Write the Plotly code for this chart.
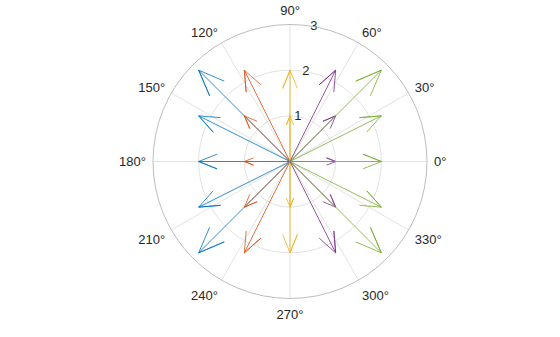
import numpy as np
import plotly.graph_objects as go

# Data: arrow components on a 5x5 grid (compass plot)
x_components = [-2, -1, 0, 1, 2]
y_components = [2, 1, 0, -1, -2]
series_colors = ["#0072BD", "#D95319", "#EDB120", "#7E2F8E", "#77AC30"]
angle_ticks = [0, 30, 60, 90, 120, 150, 180, 210, 240, 270, 300, 330]
radial_ticks = [1, 2, 3]
radial_label_angle = 80

# MATLAB-style compass arrow shape (unit arrow along +x)
head_x = np.array([0, 1, 0.8, 1, 0.8])
head_y = np.array([0, 0, 0.08, 0, -0.08])

fig = go.Figure()
for xc, col in zip(x_components, series_colors):
    rs, ths = [], []
    for yc in y_components:
        z = complex(xc, yc)
        pts = z * (head_x + 1j * head_y)
        r = np.abs(pts)
        th = np.degrees(np.angle(pts))
        rs += [float(v) for v in r] + [None]
        ths += [float(v) for v in th] + [None]
    fig.add_trace(go.Scatterpolar(r=rs, theta=ths, mode="lines",
                                  line=dict(color=col, width=0.8),
                                  showlegend=False, hoverinfo="skip"))

# radial tick labels centred on the 80-degree spoke (MATLAB style)
fig.add_trace(go.Scatterpolar(r=radial_ticks, theta=[radial_label_angle] * len(radial_ticks),
                              mode="text", text=[str(t) for t in radial_ticks],
                              textposition="middle center", cliponaxis=False,
                              textfont=dict(size=13, color="#262626",
                                            family="Liberation Sans, Arial, sans-serif"),
                              showlegend=False, hoverinfo="skip"))

R = 137
cx, cy = 290, 337 - 161.5
fig.update_layout(
    width=560, height=337,
    margin=dict(l=0, r=0, t=0, b=0),
    paper_bgcolor="white",
    font=dict(family="Liberation Sans, Arial, sans-serif", size=13, color="#262626"),
    polar=dict(
        domain=dict(x=[(cx - R) / 560, (cx + R) / 560], y=[(cy - R) / 337, (cy + R) / 337]),
        bgcolor="white",
        radialaxis=dict(range=[0, 3], tickvals=radial_ticks, showticklabels=False,
                        angle=radial_label_angle, showline=False, ticks="",
                        gridcolor="#E3E3E3", gridwidth=1),
        angularaxis=dict(direction="counterclockwise", rotation=0,
                         tickvals=angle_ticks, ticktext=[f"{a}°" for a in angle_ticks],
                         ticks="outside", ticklen=4, tickcolor="rgba(0,0,0,0)",
                         showline=True, linecolor="#BDBDBD", linewidth=1,
                         gridcolor="#E3E3E3", gridwidth=1,
                         tickfont=dict(size=13, color="#262626")),
    ),
)
fig.write_html("out.html")
